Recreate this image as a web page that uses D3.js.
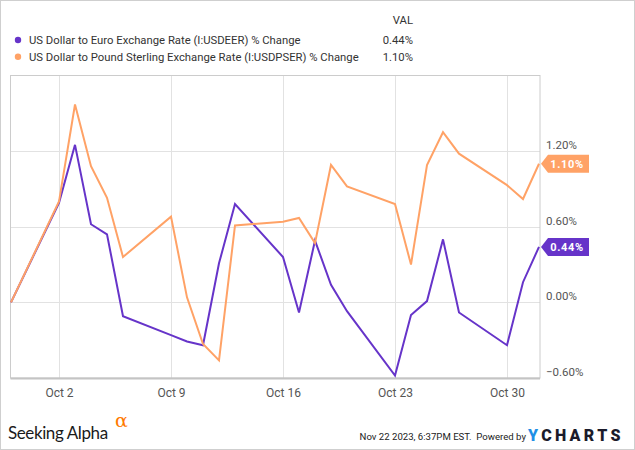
<!DOCTYPE html>
<html>
<head>
<meta charset="utf-8">
<script src="https://cdn.jsdelivr.net/npm/d3@7/dist/d3.min.js"></script>
<style>
  html, body { margin: 0; padding: 0; background: #fff; }
  svg { display: block; font-family: Roboto, "Noto Sans", sans-serif; }
</style>
</head>
<body>
<svg id="chart" width="635" height="450"></svg>
<script>
const dates = ["2023-09-29","2023-10-02","2023-10-03","2023-10-04","2023-10-05","2023-10-06",
  "2023-10-09","2023-10-10","2023-10-11","2023-10-12","2023-10-13","2023-10-16","2023-10-17",
  "2023-10-18","2023-10-19","2023-10-20","2023-10-23","2023-10-24","2023-10-25","2023-10-26",
  "2023-10-27","2023-10-30","2023-10-31","2023-11-01"];
const eurValues = [0, 0.79, 1.25, 0.62, 0.54, -0.11, -0.26, -0.31, -0.34, 0.31, 0.78, 0.36, -0.08,
  0.49, 0.14, -0.07, -0.58, -0.10, 0.01, 0.50, -0.08, -0.34, 0.16, 0.44];
const gbpValues = [0, 0.80, 1.57, 1.08, 0.83, 0.36, 0.68, 0.04, -0.33, -0.46, 0.61, 0.64, 0.67,
  0.47, 1.09, 0.92, 0.78, 0.30, 1.09, 1.35, 1.18, 0.93, 0.82, 1.10];
const seriesNames = ["US Dollar to Euro Exchange Rate (I:USDEER) % Change",
  "US Dollar to Pound Sterling Exchange Rate (I:USDPSER) % Change"];
const seriesColors = ["#6634c9", "#ffa266"];
const lastLabels = ["0.44%", "1.10%"];
const yTicks = [-0.6, 0, 0.6, 1.2];
const xTickDates = ["2023-10-02","2023-10-09","2023-10-16","2023-10-23","2023-10-30"];

const parse = d3.timeParse("%Y-%m-%d");
const svg = d3.select("#chart");
const L = 11, R = 539, T = 75.5, B = 378;

const x = d3.scaleTime().domain([parse(dates[0]), parse(dates[dates.length-1])]).range([L, R]);
const y = d3.scaleLinear().domain([-0.6, 1.8]).range([B, T]);

// outer border
svg.append("rect").attr("x", 0.5).attr("y", 0.5).attr("width", 634).attr("height", 449)
  .attr("fill", "none").attr("stroke", "#cfcfcf");

// gridlines
const grid = svg.append("g");
grid.selectAll(".hg").data(yTicks.filter(v => v > -0.6)).enter().append("line")
  .attr("x1", L).attr("x2", 540).attr("y1", d => Math.round(y(d)) + 0.5).attr("y2", d => Math.round(y(d)) + 0.5)
  .attr("stroke", "#e2e2e2").attr("stroke-width", 1);
grid.selectAll(".vg").data(xTickDates.map(parse)).enter().append("line")
  .attr("y1", T).attr("y2", B).attr("x1", d => Math.round(x(d)) + 0.5).attr("x2", d => Math.round(x(d)) + 0.5)
  .attr("stroke", "#e2e2e2").attr("stroke-width", 1);

// plot frame
svg.append("rect").attr("x", L - 0.5).attr("y", 75.5).attr("width", 540 - L + 0.5).attr("height", B - 75.5)
  .attr("fill", "none").attr("stroke", "#cccccc").attr("stroke-width", 1);
svg.append("line").attr("x1", L - 0.5).attr("x2", 540).attr("y1", B + 0.5).attr("y2", B + 0.5)
  .attr("stroke", "#c4c4c4").attr("stroke-width", 2);

// x axis
const xAxis = d3.axisBottom(x).tickValues(xTickDates.map(parse)).tickFormat(d3.timeFormat("Oct %-d")).tickSize(0).tickPadding(0);
const gx = svg.append("g").attr("transform", `translate(0,${B})`).call(xAxis);
gx.select(".domain").remove();
gx.selectAll("text").attr("dy", null).attr("y", 19).attr("fill", "#555").style("font-size", "12px").style("font-family", "Roboto");

// y axis (right)
const yAxis = d3.axisRight(y).tickValues(yTicks).tickFormat(d => d3.format(".2f")(d) + "%").tickSize(0).tickPadding(0);
const gy = svg.append("g").attr("transform", `translate(546,0)`).call(yAxis);
gy.select(".domain").remove();
gy.selectAll("text").attr("dy", null).attr("y", -2.5).attr("fill", "#555").style("font-size", "11.5px").style("font-family", "Roboto");

// lines
const seriesData = [eurValues, gbpValues];
const line = d3.line().x((d, i) => x(parse(dates[i]))).y(d => y(d));
seriesData.forEach((vals, s) => {
  svg.append("path").datum(vals).attr("d", line).attr("fill", "none")
    .attr("stroke", seriesColors[s]).attr("stroke-width", 2).attr("stroke-linejoin", "miter");
});

// end badges
seriesData.forEach((vals, s) => {
  const cy = y(vals[vals.length - 1]);
  const x0 = 541, x1 = 548, x2 = 589, h = 9;
  svg.append("path").attr("d", `M${x0},${cy} L${x1},${cy - h} L${x2},${cy - h} L${x2},${cy + h} L${x1},${cy + h} Z`)
    .attr("fill", seriesColors[s]);
  svg.append("text").attr("x", 567).attr("y", cy + 4).attr("text-anchor", "middle")
    .attr("fill", "#fff").style("font-size", "11px").style("font-weight", "bold").style("letter-spacing", "0.6px")
    .text(lastLabels[s]);
});

// legend
svg.append("text").attr("x", 413).attr("y", 24).attr("text-anchor", "end").attr("fill", "#333")
  .style("font-size", "11.3px").text("VAL");
seriesNames.forEach((name, s) => {
  const cy = 40 + s * 16.7;
  svg.append("circle").attr("cx", 18).attr("cy", cy).attr("r", 3.2).attr("fill", seriesColors[s]);
  svg.append("text").attr("x", 29).attr("y", cy + 4).attr("fill", "#333").style("font-size", "11.3px").text(name);
  svg.append("text").attr("x", 413).attr("y", cy + 4).attr("text-anchor", "end").attr("fill", "#333")
    .style("font-size", "11.3px").text(lastLabels[s]);
});

// footer
svg.append("text").attr("x", 8).attr("y", 439).attr("fill", "#1a1a1a")
  .style("font-size", "17px").style("font-family", "Lato").style("font-weight", "400").style("letter-spacing", "-0.4px")
  .text("Seeking Alpha");
svg.append("text").attr("x", 115).attr("y", 427).attr("fill", "#ff7a00")
  .style("font-size", "19px").style("font-family", "DejaVu Serif").text("α");

svg.append("text").attr("x", 526).attr("y", 440).attr("text-anchor", "end").attr("fill", "#222")
  .style("font-size", "9.6px").attr("xml:space", "preserve").text("Nov 22 2023, 6:37PM EST.  Powered by");
const yc = svg.append("text").attr("x", 528).attr("y", 441).style("font-size", "16px").style("font-weight", "900")
  .style("letter-spacing", "3.3px").style("font-family", "Roboto");
yc.append("tspan").attr("fill", "#1f8fe5").text("Y");
yc.append("tspan").attr("fill", "#1b1b2b").text("CHARTS");
</script>
</body>
</html>
